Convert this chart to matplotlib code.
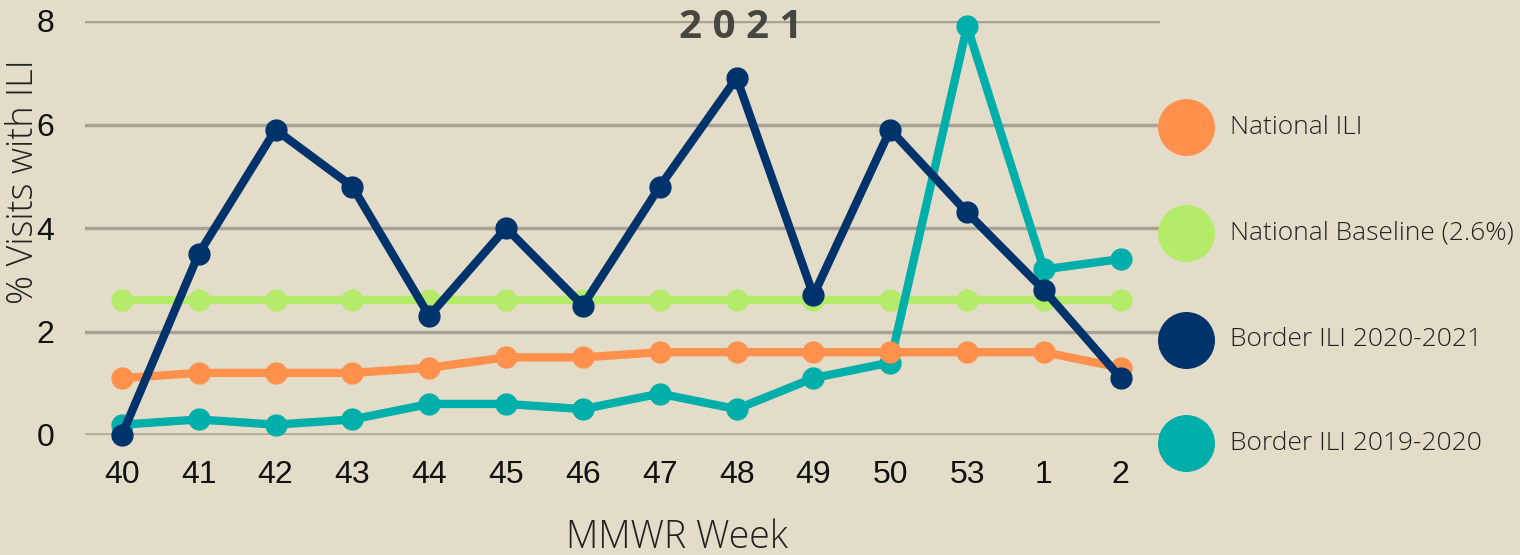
import matplotlib.pyplot as plt

weeks = ["40", "41", "42", "43", "44", "45", "46", "47", "48", "49", "50", "53", "1", "2"]
national_ili = [1.1, 1.2, 1.2, 1.2, 1.3, 1.5, 1.5, 1.6, 1.6, 1.6, 1.6, 1.6, 1.6, 1.3]
national_baseline = [2.6] * 14
border_2020_2021 = [0.0, 3.5, 5.9, 4.8, 2.3, 4.0, 2.5, 4.8, 6.9, 2.7, 5.9, 4.3, 2.8, 1.1]
border_2019_2020 = [0.2, 0.3, 0.2, 0.3, 0.6, 0.6, 0.5, 0.8, 0.5, 1.1, 1.4, 7.9, 3.2, 3.4]

labels = ["National ILI", "National Baseline (2.6%)", "Border ILI 2020-2021", "Border ILI 2019-2020"]
colors = ["#ff914d", "#b4ec69", "#00336b", "#00aeaa"]

bg = "#e3dcc9"
fig = plt.figure(figsize=(15.2, 5.55), dpi=100, facecolor=bg)
ax = fig.add_axes([85 / 1520, 1 - 435 / 555, (1160 - 85) / 1520, (435 - 21) / 555])
ax.set_facecolor(bg)

x = range(len(weeks))
# drawing order: baseline, 2019-2020, national, 2020-2021
order = [(national_baseline, 1, 2), (border_2019_2020, 3, 3), (national_ili, 0, 4), (border_2020_2021, 2, 5)]
for vals, ci, z in order:
    ax.plot(x, vals, color=colors[ci], lw=6, marker="o", ms=15, zorder=z, clip_on=False)

ax.set_xlim(-0.48, 13.51)
ax.set_ylim(0, 8)
ax.set_yticks([0, 2, 4, 6, 8])
ax.set_xticks(list(x))
ax.set_xticklabels(weeks)
for t in ax.get_xticklabels() + ax.get_yticklabels():
    t.set_fontfamily("Liberation Sans")
    t.set_fontsize(23)
    t.set_color("#111111")
ax.tick_params(length=0)
ax.tick_params(axis="x", pad=18)
ax.tick_params(axis="y", pad=22)
ax.grid(axis="y", color="#aaa395", lw=2.5, zorder=0)
ax.axhline(0, color="#5b574f", lw=2.5, zorder=1)
for s in ax.spines.values():
    s.set_visible(False)

fig.text(24 / 1520, 1 - 182 / 555, "% Visits with ILI", fontfamily="Open Sans", fontweight="light",
         fontsize=26, color="#222222", ha="center", va="center", rotation=90)
fig.text(677 / 1520, 1 - 538 / 555, "MMWR Week", fontfamily="Open Sans", fontweight="light",
         fontsize=27, color="#222222", ha="center", va="center")
fig.text(741 / 1520, 1 - 28 / 555, "2 0 2 1", fontfamily="Open Sans", fontweight="bold",
         fontsize=29, color="#3a3a36", ha="center", va="center", alpha=0.92, zorder=10)

legend_y = [127, 233, 340, 443]
for lab, c, ly in zip(labels, colors, legend_y):
    fig.add_artist(plt.Line2D([1186 / 1520], [1 - ly / 555], marker="o", ms=40, color=c,
                              transform=fig.transFigure))
    fig.text(1230 / 1520, 1 - ly / 555, lab, fontfamily="Open Sans", fontweight="light",
             fontsize=19, color="#222222", va="center")

fig.savefig("out.png", facecolor=bg)
